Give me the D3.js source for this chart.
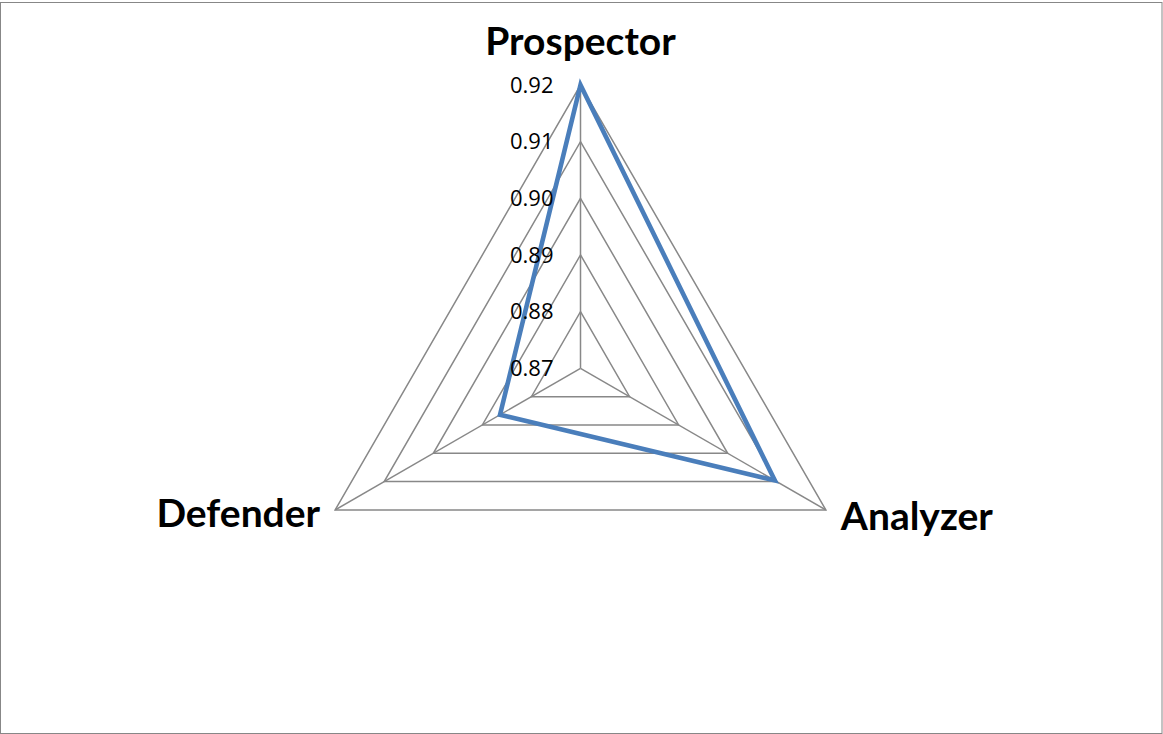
<!DOCTYPE html>
<html>
<head>
<meta charset="utf-8">
<script src="https://cdn.jsdelivr.net/npm/d3@7"></script>
<style>
  html, body { margin: 0; padding: 0; background: #fff; }
  svg { display: block; }
</style>
</head>
<body>
<svg id="chart" width="1163" height="734"></svg>
<script>
// Radar chart: strategic type scores
const categories = ["Prospector", "Analyzer", "Defender"];
const values = [0.92, 0.9096, 0.8864];
const tickValues = [0.87, 0.88, 0.89, 0.90, 0.91, 0.92];

const W = 1163, H = 734;
const cx = 580.5, cy = 368.3, R = 283.3;

const svg = d3.select("#chart");

// outer frame
svg.append("rect")
  .attr("x", 0.5).attr("y", 2.5)
  .attr("width", W - 1.5).attr("height", H - 3)
  .attr("fill", "none").attr("stroke", "#878787").attr("stroke-width", 1);

const r = d3.scaleLinear().domain([0.87, 0.92]).range([0, R]);
const angle = d3.scaleBand().domain(categories).range([0, 2 * Math.PI]).paddingInner(0).paddingOuter(0);
const ang = c => angle(c) - Math.PI / 2;
const pt = (c, v) => [cx + r(v) * Math.cos(ang(c)), cy + r(v) * Math.sin(ang(c))];

const g = svg.append("g");

// grid triangles
g.selectAll("polygon.grid")
  .data(tickValues.slice(1))
  .join("polygon")
  .attr("class", "grid")
  .attr("points", t => categories.map(c => pt(c, t).join(",")).join(" "))
  .attr("fill", "none").attr("stroke", "#888888").attr("stroke-width", 1.5);

// spokes
g.selectAll("line.spoke")
  .data(categories)
  .join("line")
  .attr("class", "spoke")
  .attr("x1", cx).attr("y1", cy)
  .attr("x2", c => pt(c, 0.92)[0]).attr("y2", c => pt(c, 0.92)[1])
  .attr("stroke", "#888888").attr("stroke-width", 1.5);

// series
const line = d3.line().curve(d3.curveLinearClosed);
g.append("path")
  .attr("d", line(categories.map((c, i) => pt(c, values[i]))))
  .attr("fill", "none").attr("stroke", "#4a7ebb").attr("stroke-width", 4.6)
  .attr("stroke-linejoin", "miter");

// tick labels along the first spoke
g.selectAll("text.tick")
  .data(tickValues)
  .join("text")
  .attr("class", "tick")
  .attr("x", cx - 27)
  .attr("y", t => cy - r(t))
  .attr("dy", "0.35em")
  .attr("text-anchor", "end")
  .attr("font-family", "'Open Sans', sans-serif")
  .attr("font-size", 22)
  .attr("fill", "#000")
  .text(t => d3.format(".2f")(t));

// category labels
const labelPos = {
  "Prospector": { dx: 0, dy: -30, anchor: "middle" },
  "Analyzer": { dx: 15, dy: 20, anchor: "start" },
  "Defender": { dx: -15, dy: 17, anchor: "end" }
};
g.selectAll("text.cat")
  .data(categories)
  .join("text")
  .attr("class", "cat")
  .attr("x", c => pt(c, 0.92)[0] + labelPos[c].dx)
  .attr("y", c => pt(c, 0.92)[1] + labelPos[c].dy)
  .attr("text-anchor", c => labelPos[c].anchor)
  .attr("font-family", "Lato, sans-serif")
  .attr("font-weight", "bold")
  .attr("font-size", 39)
  .attr("fill", "#000")
  .text(c => c);
</script>
</body>
</html>
